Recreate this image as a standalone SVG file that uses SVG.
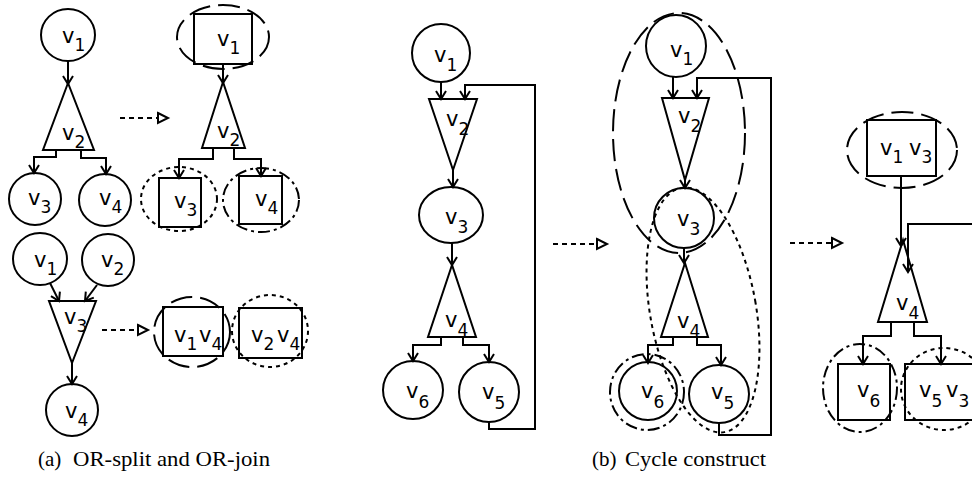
<svg xmlns="http://www.w3.org/2000/svg" width="972" height="479" viewBox="0 0 972 479">
<style>
.n{fill:none;stroke:#000;stroke-width:2}
.c{fill:none;stroke:#000;stroke-width:2;marker-end:url(#ah)}
.d{fill:none;stroke:#000;stroke-width:2;stroke-dasharray:5 4;marker-end:url(#th)}
.gl{fill:none;stroke:#000;stroke-width:2;stroke-dasharray:22 8}
.gd{fill:none;stroke:#000;stroke-width:2;stroke-dasharray:4 4}
.gm{fill:none;stroke:#000;stroke-width:2;stroke-dasharray:12 4 3 4}
.t{font-family:"DejaVu Sans",sans-serif;font-size:21px;fill:#000}
.s{font-size:17px}
.cap{font-family:"Liberation Serif",serif;font-size:21px;fill:#000}
</style>
<defs>
<marker id="ah" markerUnits="userSpaceOnUse" markerWidth="12" markerHeight="12" viewBox="0 0 12 12" refX="10" refY="6" orient="auto" overflow="visible">
<path d="M2,1 L10,6 L2,11" fill="none" stroke="#000" stroke-width="2"/>
</marker>
<marker id="th" markerUnits="userSpaceOnUse" markerWidth="12" markerHeight="12" viewBox="0 0 12 12" refX="0" refY="6" orient="auto" overflow="visible">
<path d="M0,1 L10,6 L0,11 Z" fill="#fff" stroke="#000" stroke-width="2"/>
</marker>
</defs>
<rect width="972" height="479" fill="#fff"/>

<!-- Panel (a) top: OR-split -->
<g id="a1-v1"><ellipse class="n" cx="68" cy="35" rx="27" ry="26"/><text class="t" x="62" y="43">v<tspan class="s" dy="8">1</tspan></text></g>
<g id="a1-v2"><polygon class="n" points="68,83 43,150 94,150"/><text class="t" x="62" y="140">v<tspan class="s" dy="8">2</tspan></text></g>
<g id="a1-v3"><ellipse class="n" cx="35" cy="199" rx="26" ry="26"/><text class="t" x="28" y="205">v<tspan class="s" dy="8">3</tspan></text></g>
<g id="a1-v4"><ellipse class="n" cx="105" cy="200" rx="26" ry="26"/><text class="t" x="99" y="205">v<tspan class="s" dy="8">4</tspan></text></g>

<g id="a2-v1"><rect class="n" x="194" y="14" width="58" height="50"/><text class="t" x="217" y="46">v<tspan class="s" dy="8">1</tspan></text></g>
<g id="a2-v2"><polygon class="n" points="223,82 202,148 245,148"/><text class="t" x="217" y="138">v<tspan class="s" dy="8">2</tspan></text></g>
<g id="a2-v3"><rect class="n" x="159" y="178" width="42" height="49"/><text class="t" x="174" y="208">v<tspan class="s" dy="8">3</tspan></text></g>
<g id="a2-v4"><rect class="n" x="239" y="176" width="43" height="48"/><text class="t" x="255" y="206">v<tspan class="s" dy="8">4</tspan></text></g>

<!-- Panel (a) bottom: OR-join -->
<g id="a3-v1"><ellipse class="n" cx="40" cy="259" rx="27" ry="26"/><text class="t" x="34" y="267">v<tspan class="s" dy="8">1</tspan></text></g>
<g id="a3-v2"><ellipse class="n" cx="108" cy="260" rx="26" ry="26"/><text class="t" x="101" y="267">v<tspan class="s" dy="8">2</tspan></text></g>
<g id="a3-v3"><polygon class="n" points="49,301 96,301 72,363"/><text class="t" x="64" y="324">v<tspan class="s" dy="8">3</tspan></text></g>
<g id="a3-v4"><ellipse class="n" cx="72" cy="410" rx="26" ry="26"/><text class="t" x="65" y="418">v<tspan class="s" dy="8">4</tspan></text></g>
<g id="a4-v1v4"><rect class="n" x="163" y="307" width="60" height="49"/><text class="t" x="174" y="342">v<tspan class="s" dy="8">1</tspan><tspan x="199" dy="-8">v</tspan><tspan class="s" dy="8">4</tspan></text></g>
<g id="a4-v2v4"><rect class="n" x="239" y="308" width="63" height="50"/><text class="t" x="251" y="342">v<tspan class="s" dy="8">2</tspan><tspan x="277" dy="-8">v</tspan><tspan class="s" dy="8">4</tspan></text></g>

<!-- Panel (b) first -->
<g id="b1-v1"><ellipse class="n" cx="441" cy="53" rx="29" ry="29"/><text class="t" x="434" y="62">v<tspan class="s" dy="9">1</tspan></text></g>
<g id="b1-v2"><polygon class="n" points="429,99 477,99 453,170"/><text class="t" x="446" y="126">v<tspan class="s" dy="9">2</tspan></text></g>
<g id="b1-v3"><ellipse class="n" cx="451" cy="215" rx="32" ry="28"/><text class="t" x="445" y="224">v<tspan class="s" dy="9">3</tspan></text></g>
<g id="b1-v4"><polygon class="n" points="452,265 428,337 476,337"/><text class="t" x="445" y="327">v<tspan class="s" dy="9">4</tspan></text></g>
<g id="b1-v6"><ellipse class="n" cx="413" cy="390" rx="30" ry="29"/><text class="t" x="406" y="398">v<tspan class="s" dy="10">6</tspan></text></g>
<g id="b1-v5"><ellipse class="n" cx="489" cy="392" rx="30" ry="30"/><text class="t" x="482" y="399">v<tspan class="s" dy="10">5</tspan></text></g>

<!-- Panel (b) second -->
<g id="b2-v1"><ellipse class="n" cx="676" cy="46" rx="30" ry="31"/><text class="t" x="670" y="57">v<tspan class="s" dy="8">1</tspan></text></g>
<g id="b2-v2"><polygon class="n" points="662,98 709,98 685,180"/><text class="t" x="678" y="123">v<tspan class="s" dy="9">2</tspan></text></g>
<g id="b2-v3"><ellipse class="n" cx="684" cy="218" rx="30" ry="30"/><text class="t" x="677" y="226">v<tspan class="s" dy="9">3</tspan></text></g>
<g id="b2-v4"><polygon class="n" points="685,263 661,337 708,337"/><text class="t" x="677" y="328">v<tspan class="s" dy="9">4</tspan></text></g>
<g id="b2-v6"><ellipse class="n" cx="648" cy="391" rx="29" ry="29"/><text class="t" x="641" y="398">v<tspan class="s" dy="10">6</tspan></text></g>
<g id="b2-v5"><ellipse class="n" cx="719" cy="394" rx="30" ry="29"/><text class="t" x="711" y="399">v<tspan class="s" dy="10">5</tspan></text></g>

<!-- Panel (b) third -->
<g id="b3-v1v3"><rect class="n" x="867" y="120" width="69" height="56"/><text class="t" x="880" y="155">v<tspan class="s" dy="8">1</tspan><tspan x="909" dy="-8">v</tspan><tspan class="s" dy="8">3</tspan></text></g>
<g id="b3-v4"><polygon class="n" points="903,240 878,322 927,322"/><text class="t" x="896" y="310">v<tspan class="s" dy="9">4</tspan></text></g>
<g id="b3-v6"><rect class="n" x="838" y="364" width="52" height="56"/><text class="t" x="857" y="397">v<tspan class="s" dy="10">6</tspan></text></g>
<g id="b3-v5v3"><rect class="n" x="905" y="364" width="80" height="56"/><text class="t" x="919" y="397">v<tspan class="s" dy="10">5</tspan><tspan x="946" dy="-10">v</tspan><tspan class="s" dy="10">3</tspan></text></g>

<!-- connectors -->
<g id="connectors">
<path class="c" d="M68,61 V84"/>
<path class="c" d="M56,150 V157 H34 V173"/>
<path class="c" d="M81,150 V158 H106 V174"/>
<path class="c" d="M223,64 V83"/>
<path class="c" d="M213,148 V159 H179 V178"/>
<path class="c" d="M234,148 V159 H261 V176"/>
<path class="c" d="M50,283 L59,301"/>
<path class="c" d="M97,285 L85,301"/>
<path class="c" d="M72,363 V384"/>
<path class="d" d="M120,118 H158"/>
<path class="d" d="M102,330 H138"/>

<path class="c" d="M441,82 V99"/>
<path class="c" d="M489,422 V429 H535 V85 H465 V99"/>
<path class="c" d="M453,170 V187"/>
<path class="c" d="M452,243 V265"/>
<path class="c" d="M441,337 V345 H413 V361"/>
<path class="c" d="M463,337 V345 H489 V362"/>
<path class="d" d="M553,244 H597"/>

<path class="c" d="M673,77 V98"/>
<path class="c" d="M719,423 V435 H771 V78 H697 V98"/>
<path class="c" d="M685,180 V188"/>
<path class="c" d="M684,248 V263"/>
<path class="c" d="M673,337 V345 H648 V363"/>
<path class="c" d="M697,337 V345 H721 V365"/>
<path class="d" d="M790,243 H832"/>

<path class="c" d="M901,176 V246"/>
<path class="c" d="M980,224 H908 V272"/>
<path class="c" d="M891,322 V336 H863 V364"/>
<path class="c" d="M914,322 V336 H941 V364"/>
</g>

<!-- groupings -->
<g id="groupings">
<ellipse class="gl" cx="223" cy="37" rx="46" ry="32"/>
<ellipse class="gd" cx="179" cy="199" rx="38" ry="32"/>
<ellipse class="gm" cx="261" cy="200" rx="38" ry="32"/>
<ellipse class="gl" cx="192" cy="332" rx="38" ry="35"/>
<ellipse class="gd" cx="270" cy="331" rx="38" ry="36"/>
<ellipse class="gl" cx="679" cy="133" rx="66" ry="120"/>
<ellipse class="gd" cx="703" cy="310" rx="53" ry="124" transform="rotate(-10 703 310)"/>
<ellipse class="gm" cx="647" cy="392" rx="37" ry="38"/>
<ellipse class="gl" cx="902" cy="150" rx="55" ry="38"/>
<ellipse class="gm" cx="860" cy="388" rx="37" ry="44"/>
<ellipse class="gd" cx="944" cy="389" rx="43" ry="41"/>
</g>

<!-- captions -->
<text class="cap" x="38" y="466">(a)</text>
<text class="cap" x="73" y="466" textLength="197" lengthAdjust="spacingAndGlyphs">OR-split and OR-join</text>
<text class="cap" x="592" y="466">(b)</text>
<text class="cap" x="625" y="466" textLength="141" lengthAdjust="spacingAndGlyphs">Cycle construct</text>
</svg>
